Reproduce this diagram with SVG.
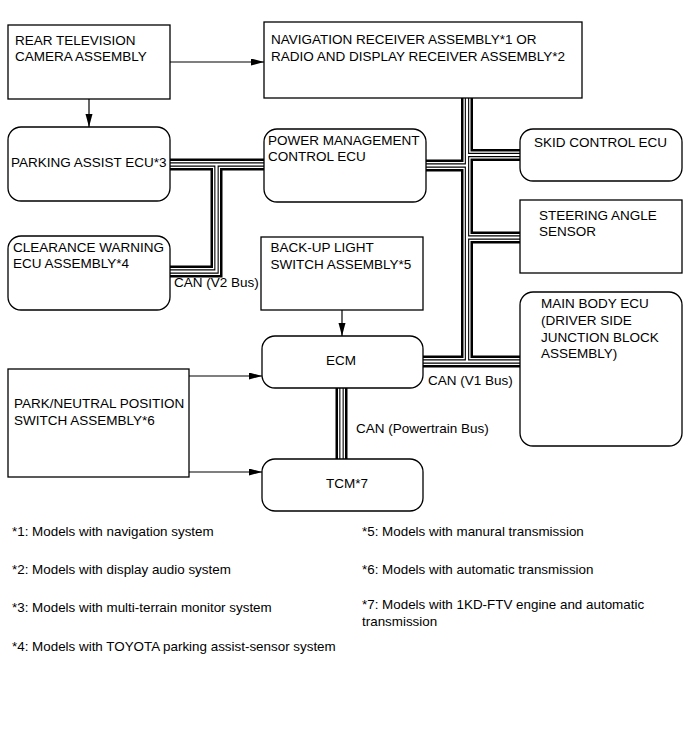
<svg xmlns="http://www.w3.org/2000/svg" xmlns:xlink="http://www.w3.org/1999/xlink" width="690" height="756" viewBox="0 0 690 756">
<style>
  .box { fill: #fff; stroke: #000; stroke-width: 1.3; }
  .t { font-family: "Liberation Sans", Arial, sans-serif; font-size: 13.5px; fill: #000; }
  .fn { font-family: "Liberation Sans", Arial, sans-serif; font-size: 13.4px; fill: #000; }
  .arrow { fill: none; stroke: #000; stroke-width: 1.2; marker-end: url(#ah); }
  .b1 { fill: none; stroke: #000; stroke-width: 12; }
  .b2 { fill: none; stroke: #fff; stroke-width: 7; }
  .b3 { fill: none; stroke: #000; stroke-width: 4.4; }
  .b4 { fill: none; stroke: #fff; stroke-width: 2.2; }
</style>
<defs>
  <marker id="ah" markerUnits="userSpaceOnUse" markerWidth="13" markerHeight="8" refX="13" refY="3.5" orient="auto">
    <path d="M0,0 L13,3.5 L0,7 z" fill="#000"/>
  </marker>
  <path id="bus" d="M467,98 V361.5 M426,165.5 H467 M467,155 H520 M467,237.5 H520 M423,361.5 H520 M170,164.5 H264 M216.5,164.5 V271.5 H170 M341.5,388 V459"/>
</defs>
<rect width="690" height="756" fill="#fff"/>

<g id="connectors">
  <use xlink:href="#bus" class="b1"/>
  <use xlink:href="#bus" class="b2"/>
  <use xlink:href="#bus" class="b3"/>
  <use xlink:href="#bus" class="b4"/>
  <path class="arrow" d="M170,62 H264"/>
  <path class="arrow" d="M89,99 V127"/>
  <path class="arrow" d="M342,310 V336"/>
  <path class="arrow" d="M189,376 H262"/>
  <path class="arrow" d="M189,472 H262"/>
  <text class="t" x="174" y="287">CAN (V2 Bus)</text>
  <text class="t" x="428" y="385">CAN (V1 Bus)</text>
  <text class="t" x="356" y="433">CAN (Powertrain Bus)</text>
</g>

<g id="rear-camera">
  <rect class="box" x="8" y="25" width="162" height="74"/>
  <text class="t" x="15" y="44.5">REAR TELEVISION</text>
  <text class="t" x="15" y="61">CAMERA ASSEMBLY</text>
</g>
<g id="nav-receiver">
  <rect class="box" x="264" y="22" width="318" height="76"/>
  <text class="t" x="271" y="44">NAVIGATION RECEIVER ASSEMBLY*1 OR</text>
  <text class="t" x="271" y="61">RADIO AND DISPLAY RECEIVER ASSEMBLY*2</text>
</g>
<g id="parking-assist">
  <rect class="box" x="8" y="127" width="162" height="74" rx="13"/>
  <text class="t" x="11" y="167">PARKING ASSIST ECU*3</text>
</g>
<g id="pmc-ecu">
  <rect class="box" x="264" y="129" width="162" height="73" rx="13"/>
  <text class="t" x="268" y="145">POWER MANAGEMENT</text>
  <text class="t" x="268" y="161">CONTROL ECU</text>
</g>
<g id="skid-control">
  <rect class="box" x="520" y="129" width="162" height="52" rx="13"/>
  <text class="t" x="534" y="146.5">SKID CONTROL ECU</text>
</g>
<g id="steering-sensor">
  <rect class="box" x="520" y="200" width="162" height="73"/>
  <text class="t" x="539" y="220">STEERING ANGLE</text>
  <text class="t" x="539" y="236">SENSOR</text>
</g>
<g id="clearance-warning">
  <rect class="box" x="8" y="236" width="162" height="74" rx="13"/>
  <text class="t" x="13" y="252">CLEARANCE WARNING</text>
  <text class="t" x="13" y="268">ECU ASSEMBLY*4</text>
</g>
<g id="backup-light">
  <rect class="box" x="261" y="237" width="162" height="73"/>
  <text class="t" x="270.5" y="252">BACK-UP LIGHT</text>
  <text class="t" x="270.5" y="268.5">SWITCH ASSEMBLY*5</text>
</g>
<g id="main-body-ecu">
  <rect class="box" x="520" y="292" width="162" height="154" rx="13"/>
  <text class="t" x="541" y="308">MAIN BODY ECU</text>
  <text class="t" x="541" y="325">(DRIVER SIDE</text>
  <text class="t" x="541" y="341.5">JUNCTION BLOCK</text>
  <text class="t" x="541" y="358">ASSEMBLY)</text>
</g>
<g id="ecm">
  <rect class="box" x="262" y="336" width="161" height="52" rx="13"/>
  <text class="t" x="326" y="364.5">ECM</text>
</g>
<g id="park-neutral-switch">
  <rect class="box" x="8" y="369" width="181" height="108"/>
  <text class="t" x="14" y="407.5">PARK/NEUTRAL POSITION</text>
  <text class="t" x="14" y="425">SWITCH ASSEMBLY*6</text>
</g>
<g id="tcm">
  <rect class="box" x="262" y="459" width="161" height="52" rx="13"/>
  <text class="t" x="326" y="488">TCM*7</text>
</g>

<g id="footnotes">
  <text class="fn" x="12" y="536">*1: Models with navigation system</text>
  <text class="fn" x="12" y="574">*2: Models with display audio system</text>
  <text class="fn" x="12" y="612">*3: Models with multi-terrain monitor system</text>
  <text class="fn" x="12" y="651">*4: Models with TOYOTA parking assist-sensor system</text>
  <text class="fn" x="362" y="536">*5: Models with manural transmission</text>
  <text class="fn" x="362" y="574">*6: Models with automatic transmission</text>
  <text class="fn" x="362" y="609">*7: Models with 1KD-FTV engine and automatic</text>
  <text class="fn" x="362" y="626">transmission</text>
</g>
</svg>
